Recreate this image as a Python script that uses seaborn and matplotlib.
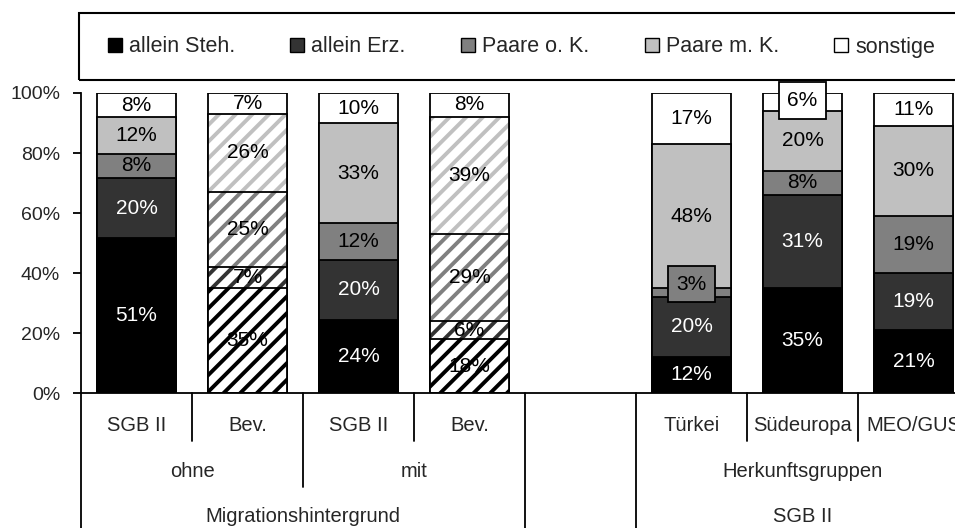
import matplotlib.pyplot as plt
import pandas as pd
import seaborn as sns
from matplotlib.lines import Line2D
from matplotlib.patches import Rectangle

# Haushaltstypen, von unten nach oben gestapelt
types = ['allein Steh.', 'allein Erz.', 'Paare o. K.', 'Paare m. K.', 'sonstige']
colors = ['#000000', '#333333', '#808080', '#c0c0c0', '#ffffff']

# Säulen (die Lücke zwischen "mit Bev." und "Türkei" ist ein leerer Platz)
bars = ['ohne SGB II', 'ohne Bev.', 'mit SGB II', 'mit Bev.', 'Türkei', 'Südeuropa', 'MEO/GUS']
order = bars[:4] + ['leer'] + bars[4:]
tick_labels = ['SGB II', 'Bev.', 'SGB II', 'Bev.', '', 'Türkei', 'Südeuropa', 'MEO/GUS']
hatched_bars = ['ohne Bev.', 'mit Bev.']

allein_steh = [51, 35, 24, 18, 12, 35, 21]
allein_erz = [20, 7, 20, 6, 20, 31, 19]
paare_ok = [8, 25, 12, 29, 3, 8, 19]
paare_mk = [12, 26, 33, 39, 48, 20, 30]
sonstige = [8, 7, 10, 8, 17, 6, 11]

# zweite / dritte Beschriftungsebene (Mitte in Säulen-Positionen)
level2 = [('ohne', 0.5), ('mit', 2.5), ('Herkunftsgruppen', 6.0)]
level3 = [('Migrationshintergrund', 1.5), ('SGB II', 6.0)]

df = pd.DataFrame({'bar': bars, 'allein Steh.': allein_steh, 'allein Erz.': allein_erz,
                   'Paare o. K.': paare_ok, 'Paare m. K.': paare_mk, 'sonstige': sonstige})
# auf 100 % normieren (Rundung der Beschriftungen)
shares = df[types].div(df[types].sum(axis=1), axis=0) * 100
cum = shares.cumsum(axis=1)

sns.set_style('white')
plt.rcParams['font.family'] = ['Liberation Sans', 'DejaVu Sans']
plt.rcParams['hatch.linewidth'] = 2.8

fig = plt.figure(figsize=(9.55, 5.28), dpi=100)
ax = fig.add_axes([81 / 955, 135 / 528, 888 / 955, 300 / 528])

# gestapelte Säulen: von oben nach unten kumuliert übereinander zeichnen
for k in range(len(types) - 1, -1, -1):
    n0 = len(ax.patches)
    sns.barplot(x=df['bar'], y=cum[types[k]], order=order, color=colors[k],
                saturation=1, width=0.72, errorbar=None, linewidth=0, ax=ax)
    for p in list(ax.patches[n0:]):
        name = order[int(round(p.get_x() + p.get_width() / 2))]
        if name in hatched_bars and types[k] != 'sonstige':
            p.set_facecolor('white')
            p.set_edgecolor(colors[k])
            p.set_linewidth(0)
            p.set_hatch('//')
        ax.add_patch(Rectangle(p.get_xy(), p.get_width(), p.get_height(),
                               fill=False, edgecolor='black', linewidth=1.3))

# Prozentwerte in den Segmenten
boxed = {('Türkei', 'Paare o. K.'): ('#808080', 2.8), ('Südeuropa', 'sonstige'): ('white', 0.5)}
for i, name in enumerate(bars):
    pos = order.index(name)
    for k, t in enumerate(types):
        val = df.loc[i, t]
        mid = cum.loc[i, t] - shares.loc[i, t] / 2
        col = 'white' if (k < 2 and name not in hatched_bars) else 'black'
        if (name, t) in boxed:
            fc, dy = boxed[(name, t)]
            ax.text(pos, mid + dy, f'{val}%', ha='center', va='center', fontsize=15, color=col,
                    bbox=dict(boxstyle='square,pad=0.42', fc=fc, ec='black', lw=1.3), zorder=5)
        else:
            ax.text(pos, mid, f'{val}%', ha='center', va='center', fontsize=15, color=col, zorder=5)

ax.set_xlim(-0.5, 7.5)
ax.set_ylim(0, 100)
ax.set_yticks(range(0, 101, 20))
ax.set_yticklabels([f'{v}%' for v in range(0, 101, 20)], fontsize=14)
ax.set_xticks([])
ax.set_xlabel('')
ax.set_ylabel('')
ax.tick_params(axis='y', direction='out', length=6, width=1.3, pad=9, left=True, color='black')
for s in ['top', 'right']:
    ax.spines[s].set_visible(False)
for s in ['left', 'bottom']:
    ax.spines[s].set_color('black')
    ax.spines[s].set_linewidth(1.3)

# mehrstufige Kategorienachse
tr = ax.get_xaxis_transform()
sep_depth = {-0.5: -0.45, 0.5: -0.16, 1.5: -0.313, 2.5: -0.16, 3.5: -0.45,
             4.5: -0.45, 5.5: -0.16, 6.5: -0.16}
for x, d in sep_depth.items():
    ax.plot([x, x], [0, d], transform=tr, color='black', lw=1.3, clip_on=False)
for i, lab in enumerate(tick_labels):
    ax.text(i, -0.107, lab, transform=tr, ha='center', va='center', fontsize=14.5)
for lab, x in level2:
    ax.text(x, -0.263, lab, transform=tr, ha='center', va='center', fontsize=14.5)
for lab, x in level3:
    ax.text(x, -0.413, lab, transform=tr, ha='center', va='center', fontsize=14.5)

# Legende im Rahmen oben
handles = [Line2D([], [], marker='s', linestyle='', markersize=10, markerfacecolor=c,
                  markeredgecolor='black', markeredgewidth=1) for c in colors]
fig.legend(handles, types, loc='center left', bbox_to_anchor=(107 / 955, 1 - 47 / 528),
           ncol=5, frameon=False, fontsize=15.5, handlelength=0.7, handletextpad=0.3,
           columnspacing=2.55, borderpad=0, borderaxespad=0)
fig.add_artist(Rectangle((79 / 955, 1 - 80 / 528), 1.0, 67 / 528, transform=fig.transFigure,
                         fill=False, edgecolor='black', linewidth=1.5, clip_on=False))

fig.savefig('out.png', dpi=100)
